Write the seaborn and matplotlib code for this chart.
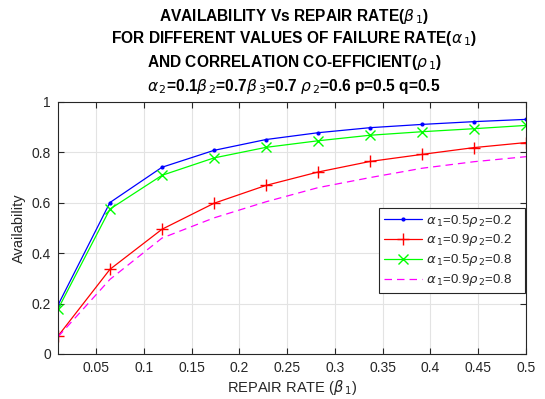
import numpy as np
import pandas as pd
import seaborn as sns
import matplotlib
matplotlib.use("Agg")
import matplotlib.pyplot as plt

# ---- data ----
repair_rate = [0.01, 0.0644, 0.1189, 0.1733, 0.2278, 0.2822, 0.3367, 0.3911, 0.4456, 0.5]
avail_a05_r02 = [0.194, 0.601, 0.741, 0.808, 0.851, 0.878, 0.898, 0.911, 0.922, 0.931]
avail_a09_r02 = [0.071, 0.336, 0.495, 0.598, 0.669, 0.722, 0.764, 0.792, 0.819, 0.839]
avail_a05_r08 = [0.178, 0.575, 0.709, 0.778, 0.820, 0.846, 0.868, 0.882, 0.894, 0.907]
avail_a09_r08 = [0.068, 0.296, 0.460, 0.540, 0.604, 0.660, 0.700, 0.737, 0.763, 0.783]
series_labels = [r'$\alpha_{\,1}$=0.5$\rho_{\,2}$=0.2', r'$\alpha_{\,1}$=0.9$\rho_{\,2}$=0.2',
                 r'$\alpha_{\,1}$=0.5$\rho_{\,2}$=0.8', r'$\alpha_{\,1}$=0.9$\rho_{\,2}$=0.8']
x_ticks = [0.05, 0.1, 0.15, 0.2, 0.25, 0.3, 0.35, 0.4, 0.45, 0.5]
x_tick_labels = ['0.05', '0.1', '0.15', '0.2', '0.25', '0.3', '0.35', '0.4', '0.45', '0.5']
y_ticks = [0, 0.2, 0.4, 0.6, 0.8, 1.0]
y_tick_labels = ['0', '0.2', '0.4', '0.6', '0.8', '1']

sns.set_theme(style="white")
plt.rcParams['font.family'] = ['Liberation Sans', 'DejaVu Sans']
plt.rcParams['mathtext.fontset'] = 'dejavusans'

fig = plt.figure(figsize=(5.45, 3.99), dpi=100)
ax = fig.add_axes([0.1064, 0.1128, 0.8587, 0.6316])

styles = [
    dict(color='#0000ff', marker='.', markersize=4, linestyle='-'),
    dict(color='#ff0000', marker='+', markersize=9, linestyle='-'),
    dict(color='#00ff00', marker='x', markersize=7, linestyle='-'),
    dict(color='#ff00ff', marker=None, linestyle=(0, (6, 4))),
]
for vals, lab, st in zip([avail_a05_r02, avail_a09_r02, avail_a05_r08, avail_a09_r08],
                         series_labels, styles):
    df = pd.DataFrame({'x': repair_rate, 'y': vals})
    kw = dict(color=st['color'], linewidth=0.9, label=lab)
    if st['marker']:
        kw.update(marker=st['marker'], markersize=st['markersize'],
                  markeredgecolor=st['color'], markerfacecolor=st['color'],
                  markeredgewidth=1.0)
    sns.lineplot(data=df, x='x', y='y', ax=ax, **kw)
    ax.lines[-1].set_linestyle(st['linestyle'])

ax.set_xlim(0.01, 0.5)
ax.set_ylim(0, 1)
ax.set_xticks(x_ticks)
ax.set_xticklabels(x_tick_labels)
ax.set_yticks(y_ticks)
ax.set_yticklabels(y_tick_labels)
ax.grid(True, color='#e3e3e3', linewidth=0.8)
for s in ax.spines.values():
    s.set_visible(True)
    s.set_color('#262626')
    s.set_linewidth(0.8)
ax.tick_params(direction='in', length=4, width=0.8, colors='#262626',
               labelsize=10, top=True, right=True, bottom=True, left=True,
               labelcolor='#262626', pad=5)
ax.set_xlabel(r'REPAIR RATE ($\beta_{\,1}$)', fontsize=10.5, color='#262626', labelpad=2)
ax.set_ylabel('Availability', fontsize=10.5, color='#262626', labelpad=4)

leg = ax.legend(loc='lower left', bbox_to_anchor=(0.686, 0.242, 0.312, 0.33),
                mode='expand', fontsize=9.5,
                frameon=True, fancybox=False, framealpha=1, edgecolor='#262626',
                handlelength=2.9, handletextpad=0.3, borderpad=0.35,
                labelspacing=0.3, borderaxespad=0)
leg.get_frame().set_linewidth(0.8)

titles = [r'AVAILABILITY Vs REPAIR RATE($\beta_{\,1}$)',
          r'FOR DIFFERENT VALUES OF FAILURE RATE($\alpha_{\,1}$)',
          r'AND CORRELATION CO-EFFICIENT($\rho_{\,1}$)',
          r'$\alpha_{\,2}$=0.1$\beta_{\,2}$=0.7$\beta_{\,3}$=0.7 $\rho_{\,2}$=0.6 p=0.5 q=0.5']
ypix = [16, 39, 62, 86]
for t, yp in zip(titles, ypix):
    fig.text(294 / 545, 1 - yp / 399, t, ha='center', va='center',
             fontsize=11.2, fontweight='bold', color='black')

fig.savefig('out.png', dpi=100)
